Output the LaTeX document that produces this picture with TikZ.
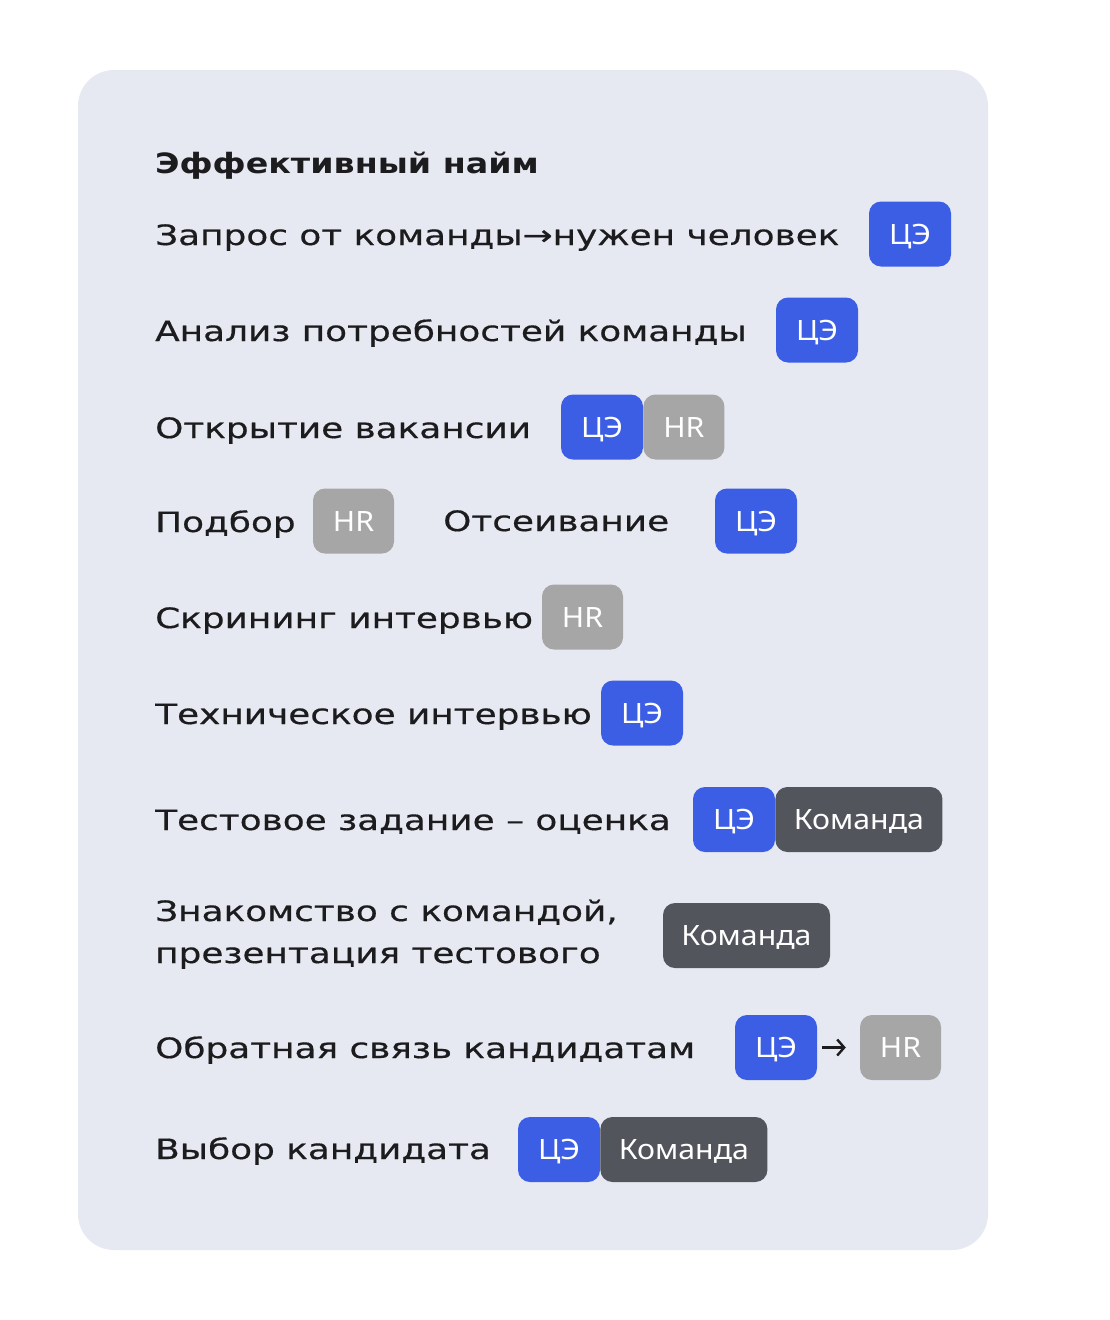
\documentclass[tikz,border=0pt]{standalone}
\usepackage{fontspec}
\usepackage{xcolor}
\usepackage{tikz}
\usetikzlibrary{positioning,arrows.meta}

\newfontfamily\rowfont[FakeStretch=1.28, FakeBold=0.5]{DejaVu Sans}
\newfontfamily\titlefont[FakeStretch=1.19]{DejaVu Sans}
\newfontfamily\tagfont[FakeStretch=1.08]{Noto Sans}

\definecolor{cardbg}{HTML}{E6E9F1}
\definecolor{inkdark}{HTML}{1C1C1E}
\definecolor{ceblue}{HTML}{3B5EE5}
\definecolor{hrgray}{HTML}{A6A6A6}
\definecolor{teamgray}{HTML}{52555C}

\begin{document}
\begin{tikzpicture}[x=1pt, y=-1pt,
        item/.style={anchor=base west, inner sep=0pt, text=inkdark, font=\rowfont\fontsize{28}{42}\selectfont},
        badge/.style={inner sep=0pt, minimum height=65pt, text height=20pt, text depth=0pt, rounded corners=12pt, text=white, font=\tagfont\fontsize{28}{30}\selectfont},
        ce/.style={badge, fill=ceblue, minimum width=82pt},
        hr/.style={badge, fill=hrgray, minimum width=81pt},
        team/.style={badge, fill=teamgray, minimum width=167pt},
        passon/.style={draw=inkdark, line width=2.4pt, -{Straight Barb[length=7pt, width=16pt]}}]
        \useasboundingbox (0,0) rectangle (1110,1320);

        % Card
        \fill[cardbg, rounded corners=36pt] (78,70) rectangle (988,1250);

        % Title
        \node[item, font=\titlefont\bfseries\fontsize{28}{34}\selectfont] (title) at (155,173) {Эффективный найм};

        % Steps
        \node[item] (step1) at (155,245) {Запрос от команды→нужен человек};
        \node[ce] (ce1) at (910,234) {ЦЭ};

        \node[item] (step2) at (155,341) {Анализ потребностей команды};
        \node[ce] (ce2) at (817,330) {ЦЭ};

        \node[item] (step3) at (155,438) {Открытие вакансии};
        \node[ce] (ce3) at (602,427) {ЦЭ};
        \node[hr, right=0pt of ce3] (hr3) {HR};

        \node[item] (step4) at (155,532) {Подбор};
        \node[hr] (hr4) at (353.5,521) {HR};
        \node[item] (step4b) at (443,531) {Отсеивание};
        \node[ce] (ce4) at (756,521) {ЦЭ};

        \node[item] (step5) at (155,628) {Скрининг интервью};
        \node[hr] (hr5) at (582.5,617) {HR};

        \node[item] (step6) at (155,724) {Техническое интервью};
        \node[ce] (ce6) at (642,713) {ЦЭ};

        \node[item] (step7) at (155,830) {Тестовое задание – оценка};
        \node[ce] (ce7) at (734,819.5) {ЦЭ};
        \node[team, right=0pt of ce7] (team7) {Команда};

        \node[item] (step8) at (155,921) {Знакомство с командой,};
        \node[item] (step8b) at (155,963) {презентация тестового};
        \node[team] (team8) at (746.5,935.5) {Команда};

        \node[item] (step9) at (155,1058) {Обратная связь кандидатам};
        \node[ce] (ce9) at (776,1047.5) {ЦЭ};
        \node[hr] (hr9) at (900.5,1047.5) {HR};
        \draw[passon, shorten <=5pt, shorten >=14pt] (ce9) -- (hr9);

        \node[item] (step10) at (155,1159) {Выбор кандидата};
        \node[ce] (ce10) at (559,1149.5) {ЦЭ};
        \node[team, right=0pt of ce10] (team10) {Команда};
\end{tikzpicture}
\end{document}
